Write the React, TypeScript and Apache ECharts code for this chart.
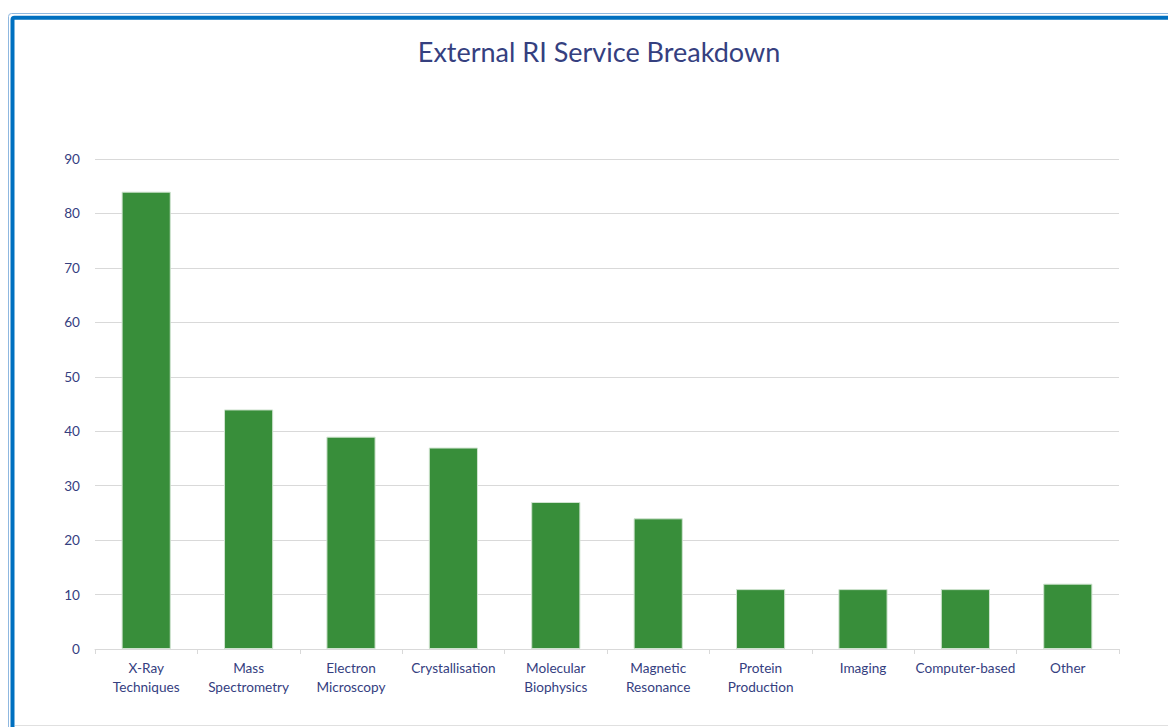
import React, { useEffect, useRef } from "react";
import * as echarts from "echarts";

const categories = [
  "X-Ray\nTechniques",
  "Mass\nSpectrometry",
  "Electron\nMicroscopy",
  "Crystallisation",
  "Molecular\nBiophysics",
  "Magnetic\nResonance",
  "Protein\nProduction",
  "Imaging",
  "Computer-based",
  "Other",
];
const counts = [84, 44, 39, 37, 27, 24, 11, 11, 11, 12];
const yTicks = [0, 10, 20, 30, 40, 50, 60, 70, 80, 90];

const TEXT = "#35407f";
const FONT = "Lato, 'Open Sans', sans-serif";

export default function App() {
  const ref = useRef<HTMLDivElement>(null);
  useEffect(() => {
    if (!ref.current) return;
    const chart = echarts.init(ref.current, undefined, { renderer: "svg" });
    chart.setOption({
      animation: false,
      backgroundColor: "#ffffff",
      title: {
        text: "External RI Service Breakdown",
        left: 594,
        textAlign: "center",
        top: 33,
        textStyle: { color: TEXT, fontFamily: FONT, fontSize: 27, fontWeight: "normal" },
      },
      graphic: [
        {
          type: "rect",
          shape: { x: 8.5, y: 13.5, width: 1300, height: 900, r: 3 },
          style: { fill: "none", stroke: "#8fb8e0", lineWidth: 1 },
          silent: true,
        },
        {
          type: "rect",
          shape: { x: 12.5, y: 17.8, width: 1300, height: 900, r: 2 },
          style: { fill: "none", stroke: "#0070c0", lineWidth: 4 },
          silent: true,
        },
        {
          type: "line",
          shape: { x1: 15, y1: 725.5, x2: 1168, y2: 725.5 },
          style: { stroke: "#e0e0e0", lineWidth: 1 },
          silent: true,
        },
      ],
      grid: { left: 95, right: 49, top: 159, bottom: 78, containLabel: false },
      xAxis: {
        type: "category",
        data: categories,
        boundaryGap: true,
        axisLine: { lineStyle: { color: "#d9d9d9", width: 1 } },
        axisTick: { show: true, length: 5, lineStyle: { color: "#d9d9d9" } },
        axisLabel: {
          color: TEXT,
          fontFamily: FONT,
          fontSize: 13.6,
          lineHeight: 19,
          margin: 9,
          interval: 0,
        },
      },
      yAxis: {
        type: "value",
        min: yTicks[0],
        max: yTicks[yTicks.length - 1],
        interval: 10,
        axisLine: { show: false },
        axisTick: { show: false },
        splitLine: { lineStyle: { color: "#d9d9d9", width: 1 } },
        axisLabel: { color: TEXT, fontFamily: FONT, fontSize: 13.6, margin: 15 },
      },
      series: [
        {
          type: "bar",
          data: counts,
          barWidth: "48%",
          itemStyle: { color: "#388e3a", borderColor: "#cfe3cf", borderWidth: 1 },
        },
      ],
    });
    return () => chart.dispose();
  }, []);
  return (
    <div
      ref={ref}
      style={{ position: "fixed", left: 0, top: 0, width: 1168, height: 727 }}
    />
  );
}
